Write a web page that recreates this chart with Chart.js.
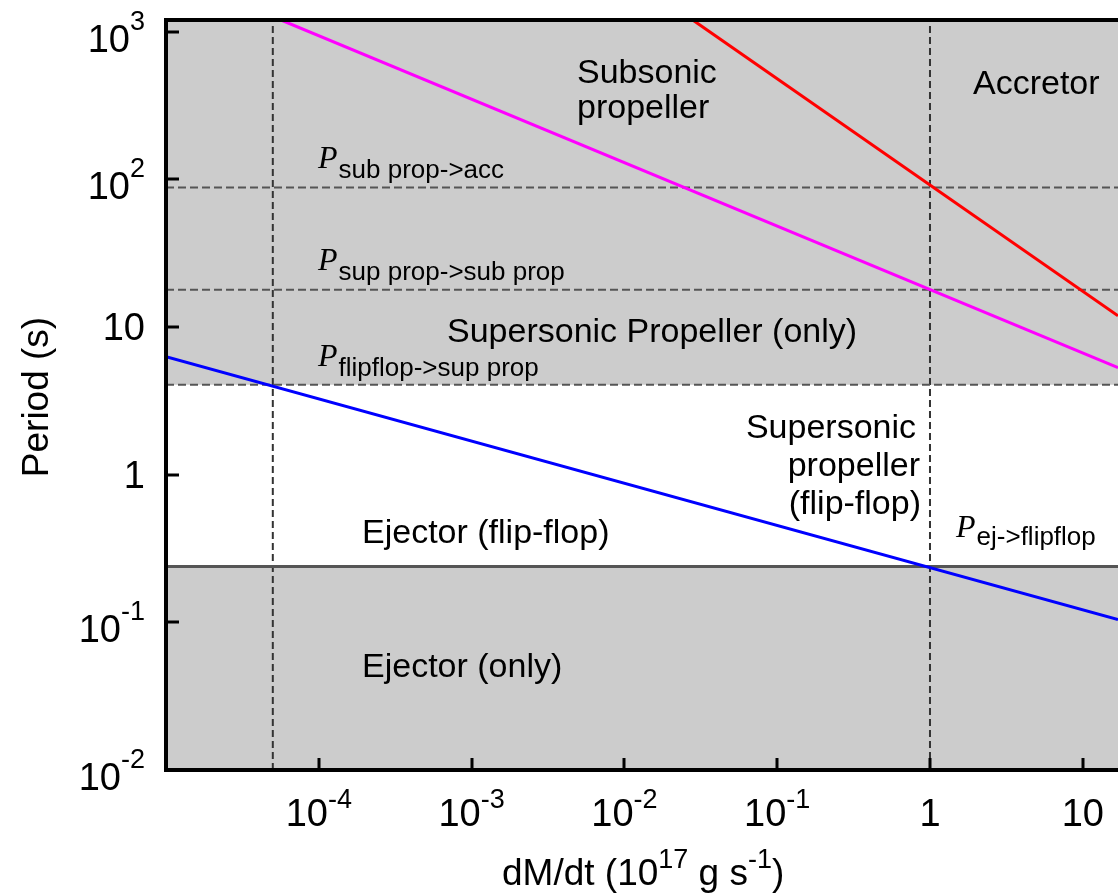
<!DOCTYPE html>
<html>
<head>
<meta charset="utf-8">
<script src="https://cdn.jsdelivr.net/npm/chart.js@4.4.1/dist/chart.umd.min.js"></script>
<style>
  body { margin: 0; background: #fff; }
  canvas { display: block; }
</style>
</head>
<body>
<canvas id="periodChart" width="1118" height="894"></canvas>
<script>
// ========================
// DATA
// ========================

// axis ranges: dM/dt in 1e17 g/s, period in s
const rateRange = [1e-5, 17];
const periodRange = [0.01, 1200];

// boundary lines [dM/dt, P]
const accretorLine = [[0.028, 1200], [17, 11.9]];
const subsonicLine = [[5.66e-5, 1200], [17, 5.3]];
const ejectorLine = [[1e-5, 6.3], [17, 0.1045]];

// horizontal period levels (dashed): sub prop->acc, sup prop->sub prop, flipflop->sup prop
const periodLevels = [88, 17.9, 4.07];
// P ej->flipflop (solid)
const ejectorLevel = 0.239;
// vertical dashed markers
const rateMarks = [5e-5, 1];

// tick labels: [mantissa, exponent]
const xTickValues = [1e-4, 1e-3, 1e-2, 1e-1, 1, 10];
const xTickLabels = [["10", "-4"], ["10", "-3"], ["10", "-2"], ["10", "-1"], ["1", ""], ["10", ""]];
const yTickValues = [1e3, 1e2, 10, 1, 0.1, 0.01];
const yTickLabels = [["10", "3"], ["10", "2"], ["10", ""], ["1", ""], ["10", "-1"], ["10", "-2"]];

// ========================
// HELPERS
// ========================

const sansFamily = "'Liberation Sans', Arial, Helvetica, sans-serif";

function sans(size) {
  return `${size}px ${sansFamily}`;
}

function toPoints(pairs) {
  return pairs.map(([x, y]) => ({ x, y }));
}

function hLine(value) {
  return [{ x: rateRange[0], y: value }, { x: rateRange[1], y: value }];
}

function vLine(value) {
  return [{ x: value, y: periodRange[0] }, { x: value, y: periodRange[1] }];
}

// runs: [text, fontSize, rise]
function drawRuns(ctx, runs, x, y, align) {
  let total = 0;
  runs.forEach((r) => {
    ctx.font = sans(r[1]);
    total += ctx.measureText(r[0]).width;
  });
  let cx = align === "center" ? x - total / 2 : align === "right" ? x - total : x;
  runs.forEach((r) => {
    ctx.font = sans(r[1]);
    ctx.fillText(r[0], cx, y - r[2]);
    cx += ctx.measureText(r[0]).width;
  });
}

function drawPLabel(ctx, sub, x, y, subDrop) {
  ctx.font = "italic 32px 'Liberation Serif', 'Times New Roman', serif";
  ctx.fillText("P", x, y);
  const w = ctx.measureText("P").width;
  ctx.font = sans(26);
  ctx.fillText(sub, x + w + 1, y + subDrop);
}

// ========================
// DECORATIONS
// ========================

const decorPlugin = {
  id: "decor",
  afterDraw(chart) {
    const { ctx, chartArea, scales } = chart;
    const { left, right, top, bottom } = chartArea;

    ctx.save();
    ctx.fillStyle = "#000";
    ctx.strokeStyle = "#000";
    ctx.textAlign = "left";
    ctx.textBaseline = "alphabetic";

    // top frame
    ctx.lineWidth = 4;
    ctx.beginPath();
    ctx.moveTo(left - 2, top);
    ctx.lineTo(right, top);
    ctx.stroke();

    // inward ticks
    ctx.lineWidth = 3;
    xTickValues.forEach((v) => {
      const px = Math.round(scales.x.getPixelForValue(v));
      ctx.beginPath();
      ctx.moveTo(px, bottom);
      ctx.lineTo(px, bottom - 12);
      ctx.stroke();
    });
    yTickValues.forEach((v) => {
      const py = Math.round(scales.y.getPixelForValue(v));
      ctx.beginPath();
      ctx.moveTo(left, py);
      ctx.lineTo(left + 13, py);
      ctx.stroke();
    });

    // tick labels
    xTickValues.forEach((v, i) => {
      const px = scales.x.getPixelForValue(v);
      const [base, exp] = xTickLabels[i];
      const runs = [[base, 38, 0]];
      if (exp) runs.push([exp, 27, 18]);
      drawRuns(ctx, runs, px, 826, "center");
    });
    yTickValues.forEach((v, i) => {
      const py = scales.y.getPixelForValue(v);
      const [base, exp] = yTickLabels[i];
      if (exp) {
        drawRuns(ctx, [[base, 38, 0], [exp, 27, 22]], 145, py + 20, "right");
      } else {
        drawRuns(ctx, [[base, 38, 0]], 145, py + 13, "right");
      }
    });

    // axis titles
    drawRuns(ctx, [["dM/dt (10", 37, 0], ["17", 27, 17], [" g s", 37, 0], ["-1", 27, 17], [")", 37, 0]], 502, 885, "left");

    ctx.save();
    ctx.translate(48, 397);
    ctx.rotate(-Math.PI / 2);
    ctx.font = sans(37);
    ctx.textAlign = "center";
    ctx.fillText("Period (s)", 0, 0);
    ctx.restore();

    // region labels
    ctx.font = sans(34);
    ctx.fillText("Subsonic", 577, 83);
    ctx.fillText("propeller", 577, 118);
    ctx.fillText("Accretor", 973, 94);
    ctx.fillText("Supersonic Propeller (only)", 447, 342);
    ctx.fillText("Ejector (flip-flop)", 362, 543);
    ctx.fillText("Ejector (only)", 362, 677);
    ctx.textAlign = "right";
    ctx.fillText("Supersonic", 916, 438);
    ctx.fillText("propeller", 920, 476);
    ctx.fillText("(flip-flop)", 921, 514);
    ctx.textAlign = "left";

    // transition periods
    drawPLabel(ctx, "sub prop->acc", 318, 168, 10);
    drawPLabel(ctx, "sup prop->sub prop", 318, 270, 10);
    drawPLabel(ctx, "flipflop->sup prop", 318, 366, 10);
    drawPLabel(ctx, "ej->flipflop", 956, 537, 8);

    ctx.restore();
  },
};

// ========================
// CHART
// ========================

const lineStyle = { pointRadius: 0, tension: 0, fill: false };

new Chart(document.getElementById("periodChart"), {
  type: "line",

  data: {
    datasets: [
      { ...lineStyle, data: toPoints(accretorLine), borderColor: "#ff0000", borderWidth: 3 },
      { ...lineStyle, data: toPoints(subsonicLine), borderColor: "#ff00ff", borderWidth: 3 },
      { ...lineStyle, data: toPoints(ejectorLine), borderColor: "#0000ff", borderWidth: 3 },

      ...periodLevels.map((v) => ({
        ...lineStyle,
        data: hLine(v),
        borderColor: "#555555",
        borderWidth: 2,
        borderDash: [8, 4],
      })),

      { ...lineStyle, data: hLine(ejectorLevel), borderColor: "#555555", borderWidth: 3 },

      ...rateMarks.map((v) => ({
        ...lineStyle,
        data: vLine(v),
        borderColor: "#333333",
        borderWidth: 2,
        borderDash: [7, 4],
      })),

      // grey regions
      {
        data: hLine(periodLevels[2]),
        pointRadius: 0,
        borderWidth: 0,
        fill: "end",
        backgroundColor: "#cccccc",
      },
      {
        data: hLine(ejectorLevel),
        pointRadius: 0,
        borderWidth: 0,
        fill: "start",
        backgroundColor: "#cccccc",
      },
    ],
  },

  options: {
    responsive: false,
    devicePixelRatio: 1,
    animation: false,

    layout: {
      padding: { top: 20, right: 0, left: 0, bottom: 0 },
    },

    plugins: {
      legend: { display: false },
      tooltip: { enabled: false },
      filler: { drawTime: "beforeDatasetsDraw" },
    },

    scales: {
      x: {
        type: "logarithmic",
        min: rateRange[0],
        max: rateRange[1],
        grid: { display: false },
        ticks: { display: false },
        border: { display: true, color: "#000", width: 4, z: 1 },
        afterFit: (scale) => {
          scale.height = 124;
        },
      },
      y: {
        type: "logarithmic",
        min: periodRange[0],
        max: periodRange[1],
        grid: { display: false },
        ticks: { display: false },
        border: { display: true, color: "#000", width: 4, z: 1 },
        afterFit: (scale) => {
          scale.width = 166;
        },
      },
    },
  },

  plugins: [decorPlugin],
});
</script>
</body>
</html>
